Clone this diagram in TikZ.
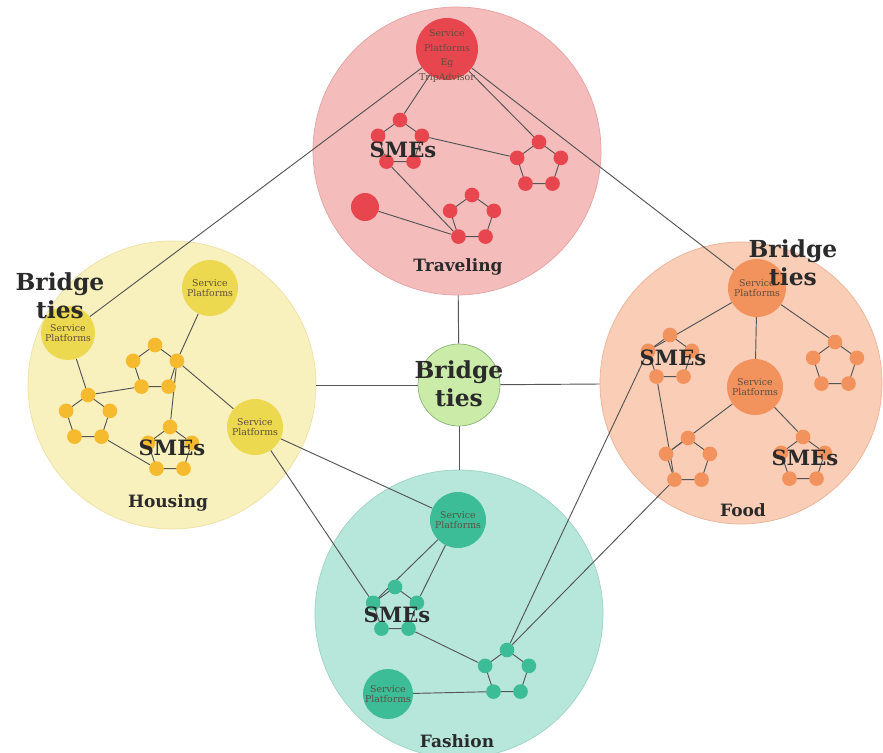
\documentclass[tikz,border=0pt]{standalone}
\usepackage{fontspec}
\setmainfont{DejaVu Serif}
\usetikzlibrary{calc}
\definecolor{tfill}{HTML}{F5BCBC}
\definecolor{tdraw}{HTML}{E3A3A3}
\definecolor{tdot}{HTML}{E8464E}
\definecolor{hfill}{HTML}{F8F0BD}
\definecolor{hdraw}{HTML}{EDE2A6}
\definecolor{hdot}{HTML}{F6BA2E}
\definecolor{hsp}{HTML}{EDD94F}
\definecolor{ffill}{HTML}{F9CDB6}
\definecolor{fdraw}{HTML}{ECB399}
\definecolor{fdot}{HTML}{F2935D}
\definecolor{afill}{HTML}{B6E7DA}
\definecolor{adraw}{HTML}{9DD3C3}
\definecolor{adot}{HTML}{3CBD97}
\definecolor{cfill}{HTML}{CBEBA8}
\definecolor{cdraw}{HTML}{8DB37A}
\definecolor{linec}{HTML}{555555}
\definecolor{labtext}{HTML}{2A2A2A}
\definecolor{sptext}{HTML}{5E4E40}
\pgfdeclarelayer{back}
\pgfdeclarelayer{lines}
\pgfsetlayers{back,lines,main}
\newcommand\mypent[4]{%
  \foreach \i/\a in {1/90,2/162,3/234,4/306,5/18}{%
    \node[dotnode,fill=#4] (#1-\i) at ($(#2,#3)+(\a:0.69cm)$) {};}%
  \begin{pgfonlayer}{lines}%
    \draw[link] (#1-1.center)--(#1-2.center)--(#1-3.center)--(#1-4.center)--(#1-5.center)--cycle;%
  \end{pgfonlayer}}
\begin{document}
\begin{tikzpicture}[x=0.03cm,y=-0.03cm,
  bigcircle/.style={circle,minimum size=8.64cm,inner sep=0pt,line width=0.6pt},
  dotnode/.style={circle,minimum size=0.44cm,inner sep=0pt},
  spnode/.style={circle,minimum size=1.68cm,inner sep=0pt,align=center,
    font=\fontsize{8}{9}\selectfont,text=sptext},
  link/.style={draw=linec,line width=0.8pt},
  bridgetxt/.style={font=\bfseries\fontsize{20}{24}\selectfont,align=center,text=labtext,inner sep=0pt},
  smes/.style={font=\bfseries\fontsize{18}{20}\selectfont,text=labtext,inner sep=0pt},
  region/.style={font=\bfseries\fontsize{14.5}{16}\selectfont,text=labtext,inner sep=0pt}]
\useasboundingbox (0,0) rectangle (883,753);
\begin{pgfonlayer}{back}
  \fill[white] (0,0) rectangle (883,753);
  \node[bigcircle,fill=tfill,draw=tdraw] (trav) at (457,151) {};
  \node[bigcircle,fill=hfill,draw=hdraw] (hous) at (172,385) {};
  \node[bigcircle,fill=ffill,draw=fdraw,minimum size=8.46cm] (food) at (741,383) {};
  \node[bigcircle,fill=afill,draw=adraw] (fash) at (459,614) {};
\end{pgfonlayer}
% centre
\node[circle,minimum size=2.46cm,inner sep=0pt,fill=cfill,draw=cdraw,line width=0.6pt] (cb) at (459,385) {};
% ---------- Traveling ----------
\node[circle,minimum size=1.86cm,inner sep=0pt,fill=tdot] (tsp) at (447,49) {};
\node[align=center,font=\fontsize{8}{12.5}\selectfont,text=sptext,inner sep=0pt] (tsptxt) at (447,56) {Service\\Platforms\\Eg\\TripAdvisor};
\mypent{tpa}{400}{143}{tdot}
\mypent{tpb}{539}{165}{tdot}
\mypent{tpc}{472}{218}{tdot}
\node[circle,minimum size=0.84cm,inner sep=0pt,fill=tdot] (tlone) at (365,207) {};
\node[smes] (tsmes) at (403,150) {SMEs};
\node[region] (tlab) at (458,267) {Traveling};
% ---------- Housing ----------
\node[spnode,fill=hsp,minimum size=1.62cm] (hsp1) at (68,333) {Service\\Platforms};
\node[spnode,fill=hsp] (hsp2) at (210,288) {Service\\Platforms};
\node[spnode,fill=hsp] (hsp3) at (255,427) {Service\\Platforms};
\mypent{hpa}{155}{368}{hdot}
\mypent{hpb}{88}{418}{hdot}
\mypent{hpc}{170}{450}{hdot}
\node[bridgetxt] (hbt) at (60,296) {Bridge\\ties};
\node[smes] (hsmes) at (172,448) {SMEs};
\node[region] (hlab) at (168,503) {Housing};
% ---------- Food ----------
\node[spnode,fill=fdot,minimum size=1.74cm] (fsp1) at (757,288) {Service\\Platforms};
\node[spnode,fill=fdot] (fsp2) at (755,387) {Service\\Platforms};
\mypent{fpl}{670}{358}{fdot}
\mypent{fpr}{835}{365}{fdot}
\mypent{fpbl}{688}{461}{fdot}
\mypent{fpbr}{803}{460}{fdot}
\node[bridgetxt] (fbt) at (793,263) {Bridge\\ties};
\node[smes] (fsmes1) at (673,358) {SMEs};
\node[smes] (fsmes2) at (805,458) {SMEs};
\node[region] (flab) at (743,510) {Food};
% ---------- Fashion ----------
\node[spnode,fill=adot] (asp1) at (458,520) {Service\\Platforms};
\node[spnode,fill=adot,minimum size=1.5cm] (asp2) at (388,694) {Service\\Platforms};
\mypent{apa}{395}{610}{adot}
\mypent{apr}{507}{673}{adot}
\node[smes] (asmes) at (397,615) {SMEs};
\node[region] (alab) at (457,741) {Fashion};
% centre text
\node[bridgetxt] (cbt) at (459,384) {Bridge\\ties};
% ---------- connectors ----------
\begin{pgfonlayer}{lines}
  \draw[link] (cb) -- (trav);
  \draw[link] (cb) -- (hous);
  \draw[link] (cb) -- (food);
  \draw[link] (cb) -- (fash);
  % traveling
  \draw[link] (tsp) -- (hsp1);
  \draw[link] (tsp) -- (fsp1);
  \draw[link] (tsp) -- (tpa-1);
  \draw[link] (tsp) -- (tpb-1);
  \draw[link] (tpa-5) -- (tpb-2);
  \draw[link] (tpa-3) -- (tpc-3);
  \draw[link] (tlone) -- (tpc-3);
  % housing
  \draw[link] (hsp1) -- (hpb-1);
  \draw[link] (hpb-1) -- (hpa-3);
  \draw[link] (hsp2) -- (hpa-5);
  \draw[link] (hpa-5) -- (hsp3);
  \draw[link] (hpa-5) -- (hpc-1);
  \draw[link] (hpb-4) -- (hpc-3);
  \draw[link] (hsp3) -- (asp1);
  \draw[link] (hsp3) -- (apa-2);
  % food
  \draw[link] (fsp1) -- (fpl-2);
  \draw[link] (fsp1) -- (fsp2);
  \draw[link] (fsp1) -- (fpr-1);
  \draw[link] (fpl-3) -- (fpbl-3);
  \draw[link] (fsp2) -- (fpbl-2);
  \draw[link] (fsp2) -- (fpbr-1);
  % fashion
  \draw[link] (asp1) -- (apa-2);
  \draw[link] (asp1) -- (apa-5);
  \draw[link] (apa-4) -- (apr-2);
  \draw[link] (asp2) -- (apr-3);
  \draw[link] (apr-1) -- (fpl-2);
  \draw[link] (apr-1) -- (fpbl-3);
\end{pgfonlayer}
\end{tikzpicture}
\end{document}
